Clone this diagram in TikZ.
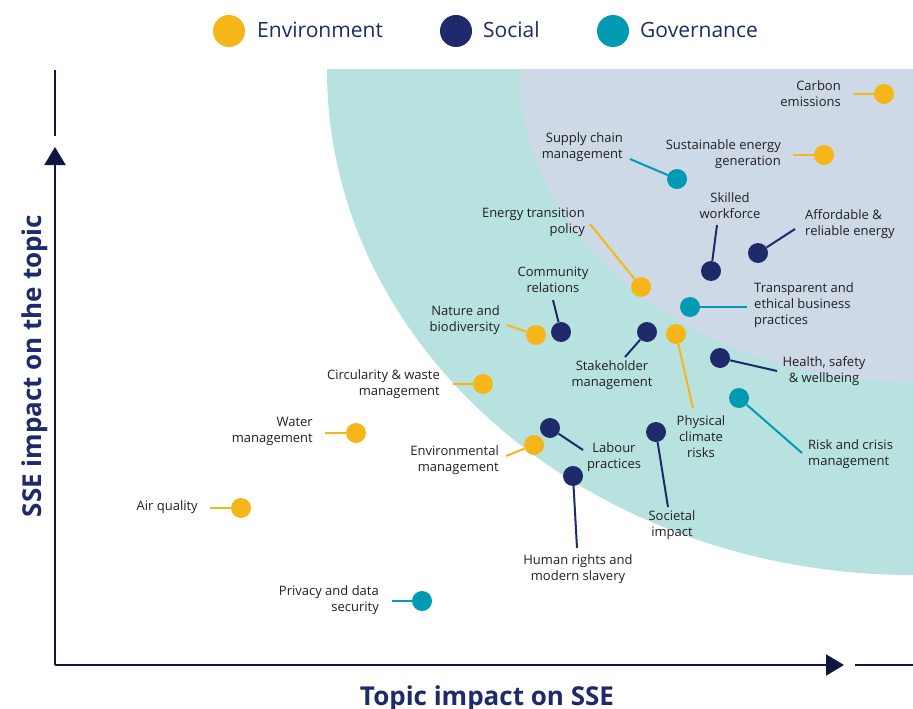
\documentclass[tikz,border=0pt]{standalone}
\usepackage{fontspec}
\setmainfont{Open Sans}
\usetikzlibrary{arrows.meta}
\definecolor{yellowc}{HTML}{F6B519}
\definecolor{navyc}{HTML}{1E2A6A}
\definecolor{tealc}{HTML}{009AB3}
\definecolor{tealbg}{HTML}{B8E2E0}
\definecolor{lavbg}{HTML}{CDD9E7}
\definecolor{axisc}{HTML}{10163F}
\definecolor{titlec}{HTML}{1E2A6A}
\definecolor{labelc}{HTML}{231F20}
\tikzset{
  dot/.style={circle, inner sep=0pt, minimum size=20pt},
  envdot/.style={dot, fill=yellowc},
  socdot/.style={dot, fill=navyc},
  govdot/.style={dot, fill=tealc},
  legdot/.style={circle, inner sep=0pt, minimum size=32pt},
  lbl/.style={font=\fontsize{13}{16}\selectfont, text=labelc, inner sep=0pt},
  lbll/.style={lbl, align=left, anchor=west},
  lblr/.style={lbl, align=right, anchor=east},
  lblc/.style={lbl, align=center},
  envline/.style={line width=2pt, draw=yellowc},
  socline/.style={line width=2pt, draw=navyc},
  govline/.style={line width=2pt, draw=tealc},
  axisline/.style={line width=2pt, draw=axisc},
  axisbar/.style={line width=2.6pt, draw=axisc},
  legtext/.style={font=\fontsize{21}{25}\selectfont, text=titlec, inner sep=0pt, anchor=base west},
  axtitle/.style={font=\fontsize{26}{30}\selectfont\bfseries, text=titlec, inner sep=0pt, anchor=base}
}
\begin{document}
\begin{tikzpicture}[x=1pt,y=-1pt]
\useasboundingbox (0,0) rectangle (913,709);
\fill[white] (0,0) rectangle (913,709);
% background regions
\begin{scope}
  \clip (0,70) rectangle (913,709);
  \fill[tealbg] (913,70) ellipse [x radius=586, y radius=505];
  \fill[lavbg] (913,70) ellipse [x radius=394, y radius=312];
\end{scope}
% legend
\node[legdot, fill=yellowc] (lg1) at (229,31) {};
\node[legtext] (lt1) at (257,38) {Environment};
\node[legdot, fill=navyc] (lg2) at (456,31) {};
\node[legtext] (lt2) at (483,38) {Social};
\node[legdot, fill=tealc] (lg3) at (613,31) {};
\node[legtext] (lt3) at (640,38) {Governance};
% axes
\coordinate (O) at (55,665);
\coordinate (ytip) at (55,147);
\coordinate (xtip) at (844,665);
\coordinate (yb1) at (55,70);
\coordinate (yb2) at (55,136);
\coordinate (xb1) at (855,665);
\coordinate (xb2) at (913,665);
\draw[axisline, -{Triangle[width=21pt,length=18pt]}] (O) -- (ytip);
\draw[axisline, -{Triangle[width=21pt,length=18pt]}] (O) -- (xtip);
\draw[axisbar] (yb1) -- (yb2);
\draw[axisbar] (xb1) -- (xb2);
\node[axtitle, rotate=90] (ytitle) at (41.5,366) {SSE impact on the topic};
\node[axtitle] (xtitle) at (487,705) {Topic impact on SSE};
% dots
\node[envdot] (d1) at (884,94) {};
\node[govdot] (d2) at (677,179) {};
\node[envdot] (d3) at (824,155) {};
\node[socdot] (d4) at (711,271) {};
\node[socdot] (d5) at (758,253) {};
\node[envdot] (d6) at (641,287) {};
\node[socdot] (d7) at (561,332) {};
\node[envdot] (d8) at (536,335) {};
\node[govdot] (d9) at (690,307) {};
\node[socdot] (d10) at (647,332) {};
\node[envdot] (d11) at (676,334) {};
\node[socdot] (d12) at (720,358) {};
\node[govdot] (d13) at (739,398) {};
\node[envdot] (d14) at (483,384) {};
\node[envdot] (d15) at (356,433) {};
\node[envdot] (d16) at (241,508) {};
\node[govdot] (d17) at (422,601) {};
\node[envdot] (d18) at (534,445) {};
\node[socdot] (d19) at (550,428) {};
\node[socdot] (d20) at (573,476) {};
\node[socdot] (d21) at (656,432) {};
% connector ends
\coordinate (e1) at (853,94);
\coordinate (e2) at (630,159);
\coordinate (e3) at (793,155);
\coordinate (e4) at (717,225);
\coordinate (e5) at (795,229);
\coordinate (e6) at (590,224);
\coordinate (e7) at (553,300);
\coordinate (e8) at (507,325);
\coordinate (e9) at (747,307);
\coordinate (e10) at (625,357);
\coordinate (e11) at (693,408);
\coordinate (e12) at (777,371);
\coordinate (e13) at (802,453);
\coordinate (e14) at (453,384);
\coordinate (e15) at (325,433);
\coordinate (e16) at (210,508);
\coordinate (e17) at (392,601);
\coordinate (e18) at (506,456);
\coordinate (e19) at (583,450);
\coordinate (e20) at (577,548);
\coordinate (e21) at (668,507);
% connectors
\draw[envline] (d1) -- (e1);
\draw[govline] (d2) -- (e2);
\draw[envline] (d3) -- (e3);
\draw[socline] (d4) -- (e4);
\draw[socline] (d5) -- (e5);
\draw[envline] (d6) -- (e6);
\draw[socline] (d7) -- (e7);
\draw[envline] (d8) -- (e8);
\draw[govline] (d9) -- (e9);
\draw[socline] (d10) -- (e10);
\draw[envline] (d11) -- (e11);
\draw[socline] (d12) -- (e12);
\draw[govline] (d13) -- (e13);
\draw[envline] (d14) -- (e14);
\draw[envline] (d15) -- (e15);
\draw[envline] (d16) -- (e16);
\draw[govline] (d17) -- (e17);
\draw[envline] (d18) -- (e18);
\draw[socline] (d19) -- (e19);
\draw[socline] (d20) -- (e20);
\draw[socline] (d21) -- (e21);
% labels
\node[lblr] (t1) at (841,93.5) {Carbon\\emissions};
\node[lblr] (t2) at (623,147) {Supply chain\\management};
\node[lblr] (t3) at (781,154.5) {Sustainable energy\\generation};
\node[lblc] (t4) at (730,206) {Skilled\\workforce};
\node[lbll] (t5) at (805,224) {Affordable \&\\reliable energy};
\node[lblr] (t6) at (585,222) {Energy transition\\policy};
\node[lblc] (t7) at (553,280) {Community\\relations};
\node[lblr] (t8) at (500,320.5) {Nature and\\biodiversity};
\node[lbll] (t9) at (754,305.5) {Transparent and\\ethical business\\practices};
\node[lblc] (t10) at (612,375.5) {Stakeholder\\management};
\node[lblc] (t11) at (701,436.5) {Physical\\climate\\risks};
\node[lblc] (t12) at (824,371.5) {Health, safety\\\& wellbeing};
\node[lbll] (t13) at (808,454) {Risk and crisis\\management};
\node[lblr] (t14) at (440,384) {Circularity \& waste\\management};
\node[lblr] (t15) at (313,431.5) {Water\\management};
\node[lblr] (t16) at (198,507) {Air quality};
\node[lblr] (t17) at (379,600.5) {Privacy and data\\security};
\node[lblr] (t18) at (499,460.5) {Environmental\\management};
\node[lblc] (t19) at (614,457) {Labour\\practices};
\node[lblc] (t20) at (578,569) {Human rights and\\modern slavery};
\node[lblc] (t21) at (672,525.5) {Societal\\impact};
\end{tikzpicture}
\end{document}
